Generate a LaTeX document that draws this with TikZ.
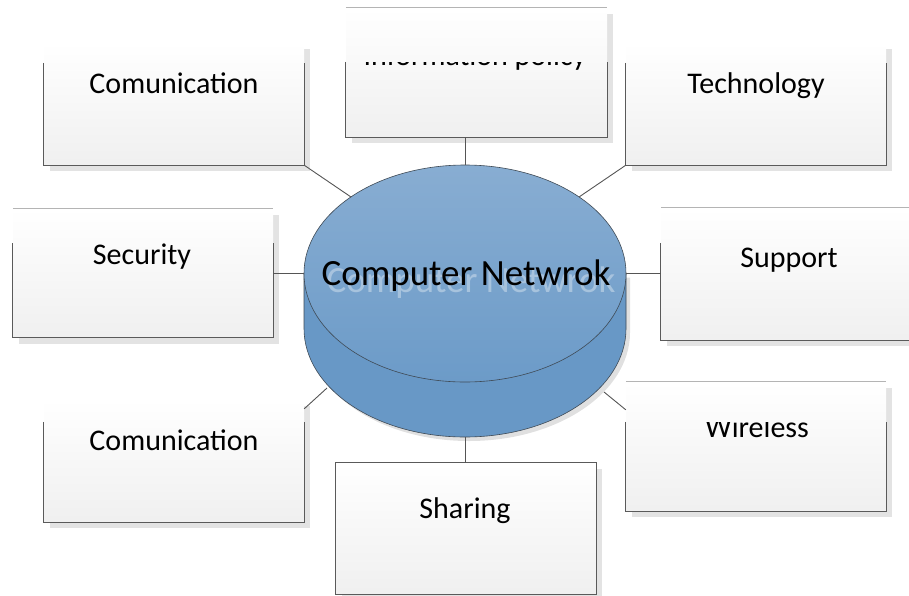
\documentclass[tikz,border=0pt]{standalone}
\usepackage{fontspec}
\setmainfont{Carlito}
\usetikzlibrary{calc,shadows}
\definecolor{bordc}{HTML}{5A5A5A}
\definecolor{toplc}{HTML}{B4B4B4}
\definecolor{shadc}{HTML}{E3E3E3}
\definecolor{cyltop}{HTML}{88ADD2}
\definecolor{cylbot}{HTML}{6C9BC8}
\definecolor{cylside}{HTML}{6898C6}
\definecolor{cyledge}{HTML}{3F4A55}
\definecolor{linkc}{HTML}{555555}
\tikzset{
  boxfill/.style={rectangle, minimum width=260pt, inner sep=0pt, top color=white, bottom color=black!6,
    drop shadow={shadow xshift=6pt, shadow yshift=-6pt, fill=shadc, opacity=1}},
  bord/.style={draw=bordc, line width=1.1pt},
  topl/.style={draw=toplc, line width=0.9pt},
  lbl/.style={font=\fontsize{30}{30}\selectfont, anchor=base, inner sep=0pt},
  link/.style={draw=linkc, line width=0.9pt},
}
\begin{document}
\begin{tikzpicture}[x=1pt,y=-1pt]
\useasboundingbox (0,0) rectangle (909,595);
\clip (0,0) rectangle (909,595);
% ---------- boxes ----------
\node[boxfill, minimum height=122pt] (com1) at (174,104) {};
\node[boxfill, minimum height=129pt, minimum width=261pt] (info) at (476.5,72.5) {};
\node[boxfill, minimum height=122pt] (tech) at (756,104) {};
\node[boxfill, minimum height=129pt] (sec) at (143,273) {};
\node[boxfill, minimum height=132pt] (sup) at (791,274) {};
\node[boxfill, minimum height=122pt] (com2) at (174,461) {};
\node[boxfill, minimum height=129pt] (wire) at (756,446.5) {};
\node[boxfill, minimum height=131pt] (share) at (466,528.5) {};
% partial borders
\draw[bord] ($(com1.north west)+(0,20)$) -- (com1.south west) -- (com1.south east) -- ($(com1.north east)+(0,20)$);
\draw[bord] ($(info.north west)+(0,54)$) -- (info.south west) -- (info.south east) -- ($(info.north east)+(0,54)$);
\draw[topl] (info.north west) -- (info.north east);
\draw[bord] ($(tech.north west)+(0,20)$) -- (tech.south west) -- (tech.south east) -- ($(tech.north east)+(0,20)$);
\draw[bord] ($(sec.north west)+(0,35)$) -- (sec.south west) -- (sec.south east) -- ($(sec.north east)+(0,35)$);
\draw[topl] (sec.north west) -- (sec.north east);
\draw[bord] ($(sup.north west)+(0,35)$) -- (sup.south west) -- (sup.south east) -- ($(sup.north east)+(0,35)$);
\draw[topl] (sup.north west) -- (sup.north east);
\draw[bord] ($(com2.north west)+(0,22)$) -- (com2.south west) -- (com2.south east) -- ($(com2.north east)+(0,22)$);
\draw[bord] ($(wire.north west)+(0,40)$) -- (wire.south west) -- (wire.south east) -- ($(wire.north east)+(0,40)$);
\draw[topl] (wire.north west) -- (wire.north east);
\draw[bord] (share.north west) rectangle (share.south east);
% ---------- labels ----------
\node[lbl] (com1t) at (174,93) {Comunication};
\begin{scope}
  \clip (340,62) rectangle (620,80);
  \node[lbl] (infot) at (475,65) {Information policy};
\end{scope}
\node[lbl] (techt) at (756,93) {Technology};
\node[lbl] (sect) at (142,264) {Security};
\node[lbl] (supt) at (789,267) {Support};
\node[lbl] (com2t) at (174,450) {Comunication};
\begin{scope}
  \clip (620,422) rectangle (890,450);
  \node[lbl] (wiret) at (757,437) {Wireless};
\end{scope}
\node[lbl] (sharet) at (465,518) {Sharing};
% ---------- cylinder ----------
\coordinate (cyl) at (465,273.5);
\fill[black!12] (308,277.5) -- (308,332.5) arc[start angle=180,end angle=360,x radius=161pt,y radius=108.5pt] -- (630,277.5) -- cycle;
\path[fill=cylside, draw=cyledge, line width=0.6pt] (304,273.5) -- (304,328.5) arc[start angle=180,end angle=360,x radius=161pt,y radius=108.5pt] -- (626,273.5);
\path[top color=cyltop, bottom color=cylbot, draw=cyledge, line width=0.6pt] (cyl) ellipse [x radius=161pt, y radius=108.5pt];
\node[font=\fontsize{37}{37}\selectfont, text=white, opacity=0.35, anchor=base, inner sep=0pt] (cylghost) at (471,292) {Computer Netwrok};
\node[font=\fontsize{37}{37}\selectfont, anchor=base, inner sep=0pt] (cylt) at (466,285) {Computer Netwrok};
% connector points on cylinder
\coordinate (ptop) at (465,165);
\coordinate (ptl) at (351,197);
\coordinate (ptr) at (579,197);
\coordinate (pl) at (304,273.5);
\coordinate (pr) at (626,273.5);
\coordinate (pbl) at (327,388);
\coordinate (pbr) at (604,392);
\coordinate (pbot) at (465,437);
% ---------- connectors ----------
\draw[link] (info.south -| ptop) -- (ptop);
\draw[link] (com1.south east) -- (ptl);
\draw[link] (tech.south west) -- (ptr);
\draw[link] (sec.east |- pl) -- (pl);
\draw[link] (pr) -- (sup.west |- pr);
\draw[link] (pbl) -- ($(com2.north east)+(0,9)$);
\draw[link] (pbr) -- ($(wire.north west)+(0,28)$);
\draw[link] (pbot) -- (share.north -| pbot);
\end{tikzpicture}
\end{document}
